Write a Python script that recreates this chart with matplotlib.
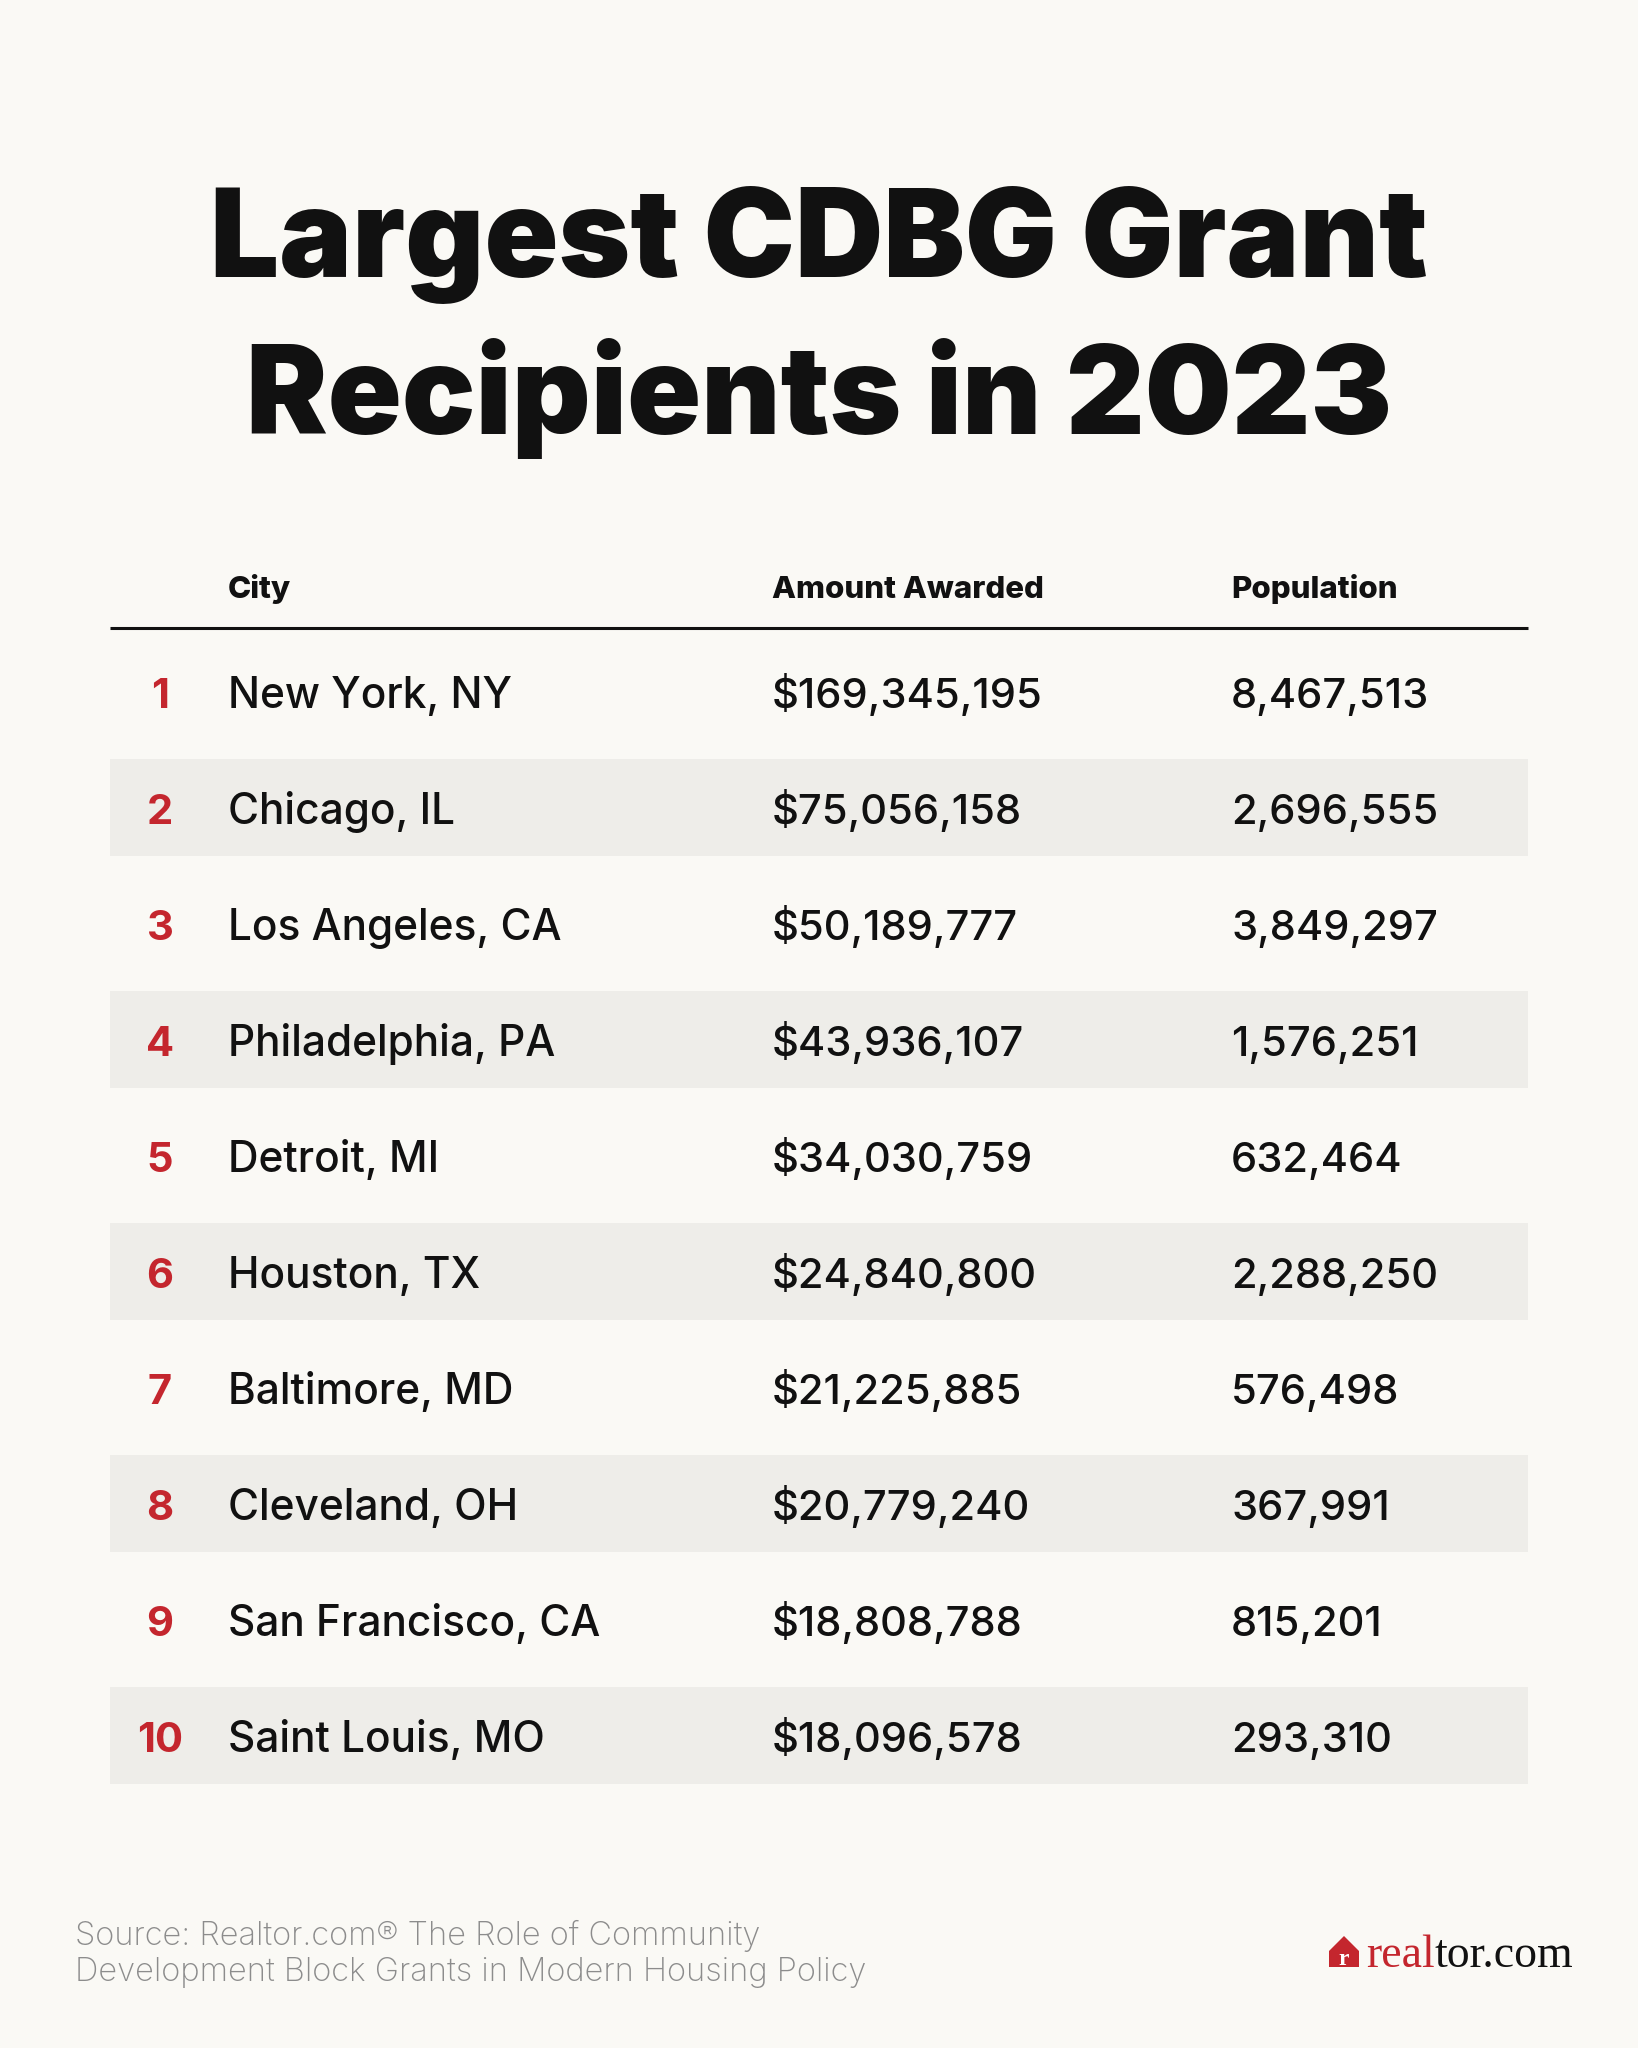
import matplotlib
matplotlib.use("Agg")
from matplotlib import pyplot as plt
from matplotlib.patches import Rectangle, Polygon
from matplotlib import font_manager

# table data
ranks = [1, 2, 3, 4, 5, 6, 7, 8, 9, 10]
cities = ["New York, NY", "Chicago, IL", "Los Angeles, CA", "Philadelphia, PA",
          "Detroit, MI", "Houston, TX", "Baltimore, MD", "Cleveland, OH",
          "San Francisco, CA", "Saint Louis, MO"]
amounts = [169345195, 75056158, 50189777, 43936107, 34030759,
           24840800, 21225885, 20779240, 18808788, 18096578]
populations = [8467513, 2696555, 3849297, 1576251, 632464,
               2288250, 576498, 367991, 815201, 293310]
headers = ["City", "Amount Awarded", "Population"]

title_lines = ["Largest CDBG Grant", "Recipients in 2023"]
source_lines = ["Source: Realtor.com\u00ae The Role of Community",
                "Development Block Grants in Modern Housing Policy"]

BG = "#faf9f5"
SHADE = "#eeede9"
RED = "#c4262e"
INK = "#111111"
GREY = "#8c8c8c"

W, H = 1638, 2048
fig = plt.figure(figsize=(W / 100, H / 100), dpi=100, facecolor=BG)
ax = fig.add_axes([0, 0, 1, 1])
ax.set_xlim(0, W)
ax.set_ylim(H, 0)
ax.axis("off")

names = {f.name for f in font_manager.fontManager.ttflist}
sans = "Inter" if "Inter" in names else "DejaVu Sans"

# title
ax.text(W / 2, 277, title_lines[0], ha="center", va="baseline",
        fontsize=88, fontweight="black", family=sans, color=INK)
ax.text(W / 2, 434, title_lines[1], ha="center", va="baseline",
        fontsize=88, fontweight="black", family=sans, color=INK)

# table layout
x_left, x_right = 110, 1528
x_rank, x_city, x_amt, x_pop = 160, 228, 772, 1231
row0, step, band_h = 691, 116, 97

for x, h in zip([x_city, x_amt, x_pop], headers):
    ax.text(x, 598, h, ha="left", va="baseline", fontsize=22.5,
            fontweight="heavy", family=sans, color=INK)
ax.plot([x_left, x_right], [628, 628], color=INK, lw=2.2, solid_capstyle="butt")

for i, (r, c, a, p) in enumerate(zip(ranks, cities, amounts, populations)):
    yc = row0 + i * step
    if i % 2 == 1:
        ax.add_patch(Rectangle((x_left, yc - band_h / 2), x_right - x_left, band_h,
                               facecolor=SHADE, edgecolor="none", zorder=0))
    base = yc + 17
    ax.text(x_rank, base, str(r), ha="center", va="baseline", fontsize=30,
            fontweight="bold", family=sans, color=RED)
    ax.text(x_city, base, c, ha="left", va="baseline", fontsize=30.5,
            fontweight="medium", family=sans, color=INK)
    ax.text(x_amt, base, f"${a:,}", ha="left", va="baseline", fontsize=30,
            fontweight="medium", family=sans, color=INK)
    ax.text(x_pop, base, f"{p:,}", ha="left", va="baseline", fontsize=30,
            fontweight="medium", family=sans, color=INK)

# source note
ax.text(75, 1945, source_lines[0], ha="left", va="baseline", fontsize=23.5,
        fontweight="light", family=sans, color=GREY)
ax.text(75, 1981, source_lines[1], ha="left", va="baseline", fontsize=23.5,
        fontweight="light", family=sans, color=GREY)

# realtor.com logo
ax.add_patch(Polygon([(1329, 1967), (1329, 1951), (1344, 1936), (1359, 1951),
                      (1359, 1967)], closed=True, facecolor=RED, edgecolor="none"))
ax.text(1344, 1965, "r", ha="center", va="baseline", fontsize=17,
        fontweight="bold", family="Liberation Serif", color="white")
t1 = ax.text(1366, 1967, "real", ha="left", va="baseline", fontsize=33,
             family="Liberation Serif", color=RED)
fig.canvas.draw()
bb = t1.get_window_extent(fig.canvas.get_renderer())
x_end = ax.transData.inverted().transform((bb.x1, bb.y0))[0]
ax.text(x_end, 1967, "tor.com", ha="left", va="baseline", fontsize=33,
        family="Liberation Serif", color=INK)

fig.savefig("out.png", dpi=100, facecolor=BG)
